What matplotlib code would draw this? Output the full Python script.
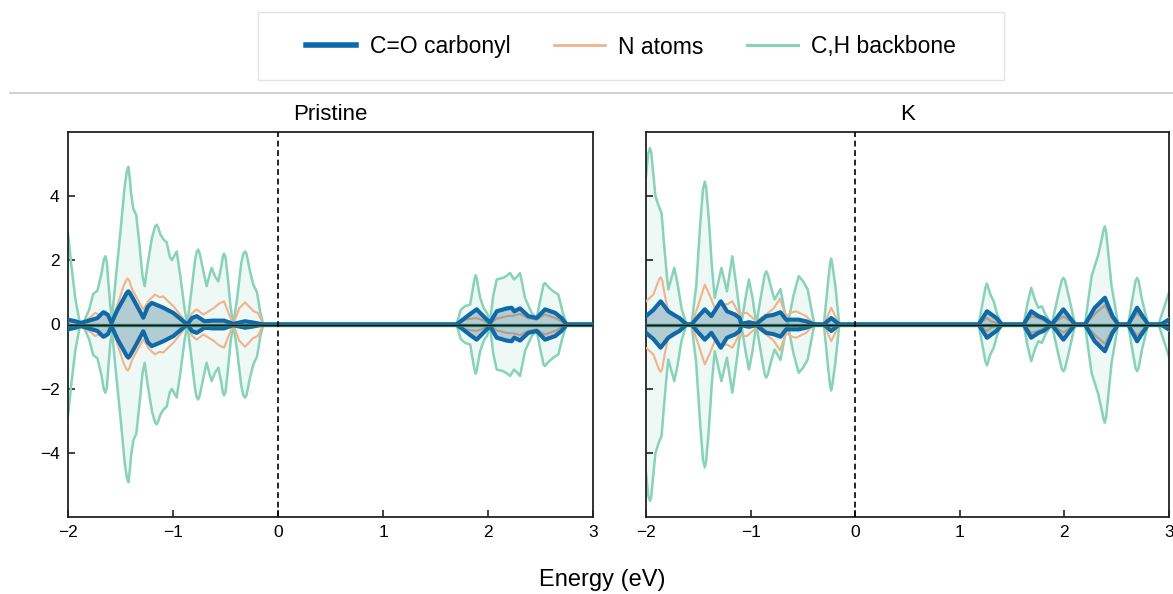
import matplotlib
matplotlib.use("Agg")
import matplotlib.pyplot as plt
from matplotlib.lines import Line2D
from matplotlib.patches import Rectangle
import numpy as np

plt.rcParams['font.family'] = ['Liberation Sans', 'DejaVu Sans']

# --- Pristine: projected DOS (spin up; spin down is the mirror) ---
pri_ch_e = [-2.00, -1.97, -1.93, -1.89, -1.86, -1.80, -1.76, -1.72, -1.68, -1.66, -1.645, -1.63, -1.62,
            -1.595, -1.58, -1.54, -1.50, -1.46, -1.44, -1.425, -1.41, -1.40, -1.378, -1.35, -1.32,
            -1.29, -1.27, -1.24, -1.20, -1.17, -1.155, -1.14, -1.12, -1.09, -1.06, -1.03, -1.01, -0.965,
            -0.93, -0.89, -0.864, -0.83, -0.79, -0.775, -0.76, -0.745, -0.72, -0.68, -0.655, -0.632,
            -0.60, -0.568, -0.54, -0.525, -0.514, -0.50, -0.48, -0.45, -0.425, -0.39, -0.35, -0.33,
            -0.314, -0.30, -0.27, -0.235, -0.20, -0.17, -0.14, 1.70, 1.74, 1.78, 1.83, 1.86, 1.875,
            1.883, 1.895, 1.91, 1.925, 1.96, 1.99, 2.02, 2.05, 2.083, 2.146, 2.18, 2.21, 2.248, 2.28,
            2.305, 2.33, 2.352, 2.416, 2.464, 2.50, 2.53, 2.543, 2.56, 2.58, 2.622, 2.67, 2.71, 2.75, 3.00]
pri_ch_y = [2.85, 1.9, 0.8, 0.1, 0.0, 0.45, 0.95, 1.05, 1.6, 2.0, 2.12, 1.95, 1.5,
            0.5, 0.26, 1.6, 2.9, 4.3, 4.75, 4.9, 4.5, 4.1, 3.6, 3.4, 2.5,
            1.5, 1.19, 1.9, 2.7, 3.05, 3.1, 3.0, 2.8, 2.64, 2.55, 2.1, 2.0, 2.27,
            1.5, 0.5, 0.0, 0.9, 2.0, 2.25, 2.33, 2.2, 1.8, 1.19, 1.5, 1.76,
            1.5, 1.34, 1.8, 2.12, 2.2, 2.1, 1.5, 0.5, 0.0, 0.8, 1.9, 2.2,
            2.27, 2.2, 1.7, 1.24, 1.0, 0.4, 0.0, 0.0, 0.45, 0.57, 0.62, 1.2, 1.45,
            1.53, 1.4, 1.1, 0.83, 0.5, 0.36, 0.1, 0.9, 1.4, 1.45, 1.52, 1.6, 1.4, 1.5,
            1.6, 1.2, 0.83, 0.36, 0.2, 0.8, 1.25, 1.29, 1.22, 1.15, 1.03, 0.93, 0.4, 0.0, 0.0]

pri_n_e = [-2.00, -1.90, -1.86, -1.80, -1.74, -1.70, -1.638, -1.585, -1.53, -1.47, -1.445, -1.431, -1.415,
           -1.39, -1.34, -1.283, -1.23, -1.171, -1.13, -1.092, -1.04, -0.997, -0.92, -0.864, -0.82,
           -0.775, -0.711, -0.616, -0.56, -0.514, -0.47, -0.425, -0.37, -0.314, -0.235, -0.19, -0.14,
           1.70, 1.78, 1.89, 1.96, 2.02, 2.08, 2.18, 2.25, 2.305, 2.38, 2.46, 2.54, 2.64, 2.75, 3.00]
pri_n_y = [0.1, 0.05, 0.05, 0.2, 0.36, 0.3, 0.41, 0.1, 0.6, 1.2, 1.38, 1.43, 1.35,
           1.1, 0.8, 0.46, 0.75, 0.93, 0.85, 0.87, 0.7, 0.57, 0.26, 0.0, 0.35,
           0.47, 0.31, 0.5, 0.65, 0.72, 0.35, 0.0, 0.5, 0.69, 0.42, 0.35, 0.0,
           0.0, 0.15, 0.2, 0.12, 0.02, 0.18, 0.26, 0.28, 0.33, 0.2, 0.15, 0.31, 0.2, 0.0, 0.0]

pri_co_e = [-2.00, -1.93, -1.88, -1.80, -1.72, -1.664, -1.62, -1.585, -1.53, -1.47, -1.44, -1.425, -1.41,
            -1.38, -1.33, -1.283, -1.24, -1.203, -1.15, -1.092, -0.997, -0.92, -0.864, -0.82, -0.775,
            -0.70, -0.62, -0.514, -0.425, -0.314, -0.235, -0.14, 1.70, 1.78, 1.84, 1.892, 1.955, 2.02,
            2.083, 2.178, 2.225, 2.25, 2.305, 2.384, 2.464, 2.543, 2.64, 2.70, 2.75, 3.00]
pri_co_y = [0.15, 0.1, 0.05, 0.12, 0.2, 0.38, 0.3, 0.05, 0.45, 0.8, 0.98, 1.03, 0.97,
            0.8, 0.5, 0.21, 0.55, 0.67, 0.6, 0.52, 0.36, 0.15, 0.0, 0.2, 0.26,
            0.1, 0.12, 0.12, 0.02, 0.1, 0.06, 0.0, 0.0, 0.2, 0.35, 0.47, 0.26, 0.05,
            0.41, 0.5, 0.52, 0.41, 0.5, 0.26, 0.2, 0.47, 0.36, 0.2, 0.0, 0.0]

# --- K-doped ---
k_ch_e = [-2.00, -1.98, -1.962, -1.95, -1.94, -1.91, -1.883, -1.851, -1.83, -1.80, -1.787, -1.76, -1.73,
          -1.70, -1.66, -1.613, -1.565, -1.52, -1.48, -1.455, -1.438, -1.425, -1.40, -1.37, -1.343,
          -1.31, -1.279, -1.226, -1.20, -1.175, -1.14, -1.105, -1.089, -1.05, -1.016, -0.98, -0.946,
          -0.90, -0.865, -0.851, -0.835, -0.80, -0.771, -0.714, -0.68, -0.645, -0.59, -0.54, -0.50,
          -0.454, -0.42, -0.39, -0.30, -0.26, -0.24, -0.23, -0.22, -0.19, -0.152, 1.18, 1.22, 1.245,
          1.26, 1.29, 1.324, 1.36, 1.403, 1.61, 1.65, 1.683, 1.72, 1.752, 1.784, 1.82, 1.879, 1.94,
          1.975, 1.99, 2.005, 2.04, 2.102, 2.197, 2.23, 2.26, 2.324, 2.36, 2.375, 2.387, 2.40, 2.42,
          2.451, 2.514, 2.61, 2.65, 2.68, 2.695, 2.71, 2.74, 2.80, 2.90, 2.95, 3.00]
k_ch_y = [4.6, 5.3, 5.48, 5.35, 5.0, 4.0, 3.72, 3.46, 2.6, 1.5, 1.09, 1.4, 1.76,
          1.3, 0.5, 0.0, 0.0, 1.2, 3.2, 4.2, 4.44, 4.25, 3.3, 1.8, 0.83,
          1.3, 1.76, 1.03, 1.6, 2.12, 1.3, 0.41, 0.0, 0.8, 1.4, 0.8, 0.0,
          0.9, 1.55, 1.65, 1.55, 1.1, 0.78, 1.1, 0.5, 0.0, 0.9, 1.5, 1.35,
          1.09, 0.5, 0.0, 0.0, 1.3, 1.9, 2.05, 1.9, 1.2, 0.0, 0.0, 0.7, 1.15,
          1.27, 0.95, 0.72, 0.3, 0.0, 0.0, 0.7, 1.14, 0.75, 0.52, 0.57, 0.3, 0.0, 0.9,
          1.38, 1.45, 1.38, 0.9, 0.0, 0.0, 0.8, 1.5, 2.17, 2.7, 2.95, 3.05, 2.85, 2.2,
          1.19, 0.0, 0.0, 0.8, 1.35, 1.45, 1.35, 0.8, 0.0, 0.0, 0.5, 1.0]

k_n_e = [-2.00, -1.93, -1.875, -1.86, -1.845, -1.82, -1.787, -1.74, -1.68, -1.613, -1.565, -1.50, -1.438,
         -1.39, -1.343, -1.279, -1.226, -1.175, -1.13, -1.105, -1.09, -1.035, -0.946, -0.851, -0.78,
         -0.72, -0.66, -0.60, -0.565, -0.47, -0.39, -0.30, -0.229, -0.152, 1.18, 1.26, 1.30, 1.403,
         1.61, 1.683, 1.752, 1.879, 1.99, 2.102, 2.197, 2.30, 2.387, 2.451, 2.514, 2.61, 2.695, 2.80,
         2.92, 3.00]
k_n_y = [0.72, 0.93, 1.4, 1.47, 1.38, 0.9, 0.41, 0.36, 0.2, 0.0, 0.0, 0.6, 1.24,
         0.9, 0.52, 0.67, 0.62, 0.72, 0.45, 0.3, 0.35, 0.36, 0.1, 0.31, 0.5,
         0.8, 0.26, 0.38, 0.41, 0.26, 0.0, 0.0, 0.52, 0.0, 0.0, 0.2, 0.1, 0.0,
         0.0, 0.25, 0.2, 0.0, 0.25, 0.0, 0.0, 0.35, 0.6, 0.2, 0.0, 0.0, 0.35, 0.0,
         0.0, 0.2]

k_co_e = [-2.00, -1.93, -1.86, -1.787, -1.74, -1.68, -1.613, -1.565, -1.50, -1.438, -1.375, -1.285,
          -1.226, -1.15, -1.105, -1.089, -1.016, -0.946, -0.851, -0.78, -0.714, -0.66, -0.54, -0.47,
          -0.39, -0.30, -0.229, -0.152, 1.18, 1.26, 1.35, 1.403, 1.61, 1.683, 1.752, 1.80, 1.879,
          1.99, 2.102, 2.197, 2.29, 2.387, 2.46, 2.514, 2.61, 2.695, 2.80, 2.92, 3.00]
k_co_y = [0.26, 0.45, 0.72, 0.41, 0.31, 0.2, 0.0, 0.0, 0.25, 0.47, 0.26, 0.72,
          0.41, 0.31, 0.2, 0.02, 0.07, 0.02, 0.26, 0.3, 0.38, 0.15, 0.15, 0.1,
          0.0, 0.0, 0.2, 0.0, 0.0, 0.41, 0.2, 0.0, 0.0, 0.41, 0.26, 0.2, 0.0,
          0.47, 0.0, 0.0, 0.52, 0.83, 0.26, 0.0, 0.0, 0.52, 0.0, 0.0, 0.15]

panels = [
    ("Pristine", (pri_co_e, pri_co_y), (pri_n_e, pri_n_y), (pri_ch_e, pri_ch_y)),
    ("K", (k_co_e, k_co_y), (k_n_e, k_n_y), (k_ch_e, k_ch_y)),
]
labels = ["C=O carbonyl", "N atoms", "C,H backbone"]

c_co = '#0b6aae'
c_n = '#f0b38c'
c_ch = '#88d2b9'

W, H = 1173, 594
fig = plt.figure(figsize=(W / 100, H / 100), dpi=100)

ax_boxes = [(68, 593), (646, 1169)]
top, bottom = 132, 517
axes = []
for (x0, x1), (title, co, n, ch) in zip(ax_boxes, panels):
    ax = fig.add_axes([x0 / W, 1 - bottom / H, (x1 - x0) / W, (bottom - top) / H])
    axes.append(ax)
    kw = dict(solid_joinstyle='round', solid_capstyle='round')

    e, y = np.array(ch[0]), np.array(ch[1])
    ax.fill_between(e, y, -y, color='#7fcdb0', alpha=0.13, lw=0, zorder=1)
    ax.plot(e, y, color=c_ch, lw=1.8, zorder=2, **kw)
    ax.plot(e, -y, color=c_ch, lw=1.8, zorder=2, **kw)

    e, y = np.array(n[0]), np.array(n[1])
    ax.plot(e, y, color=c_n, lw=1.5, zorder=3, **kw)
    ax.plot(e, -y, color=c_n, lw=1.5, zorder=3, **kw)

    e, y = np.array(co[0]), np.array(co[1])
    ax.plot(e, y, color=c_co, lw=3.0, zorder=4, **kw)
    ax.plot(e, -y, color=c_co, lw=3.0, zorder=4, **kw)
    ax.fill_between(e, y, -y, color='#2a6888', alpha=0.3, lw=0, zorder=5)

    ax.axhline(0, color='#2a8a78', lw=2.4, zorder=5.5)
    ax.axhline(0, color='#111111', lw=1.0, zorder=6)
    ax.axvline(0, color='black', lw=1.2, ls=(0, (3.5, 2.2)), zorder=6)

    ax.set_xlim(-2, 3)
    ax.set_ylim(-5.98, 5.98)
    ax.set_xticks([-2, -1, 0, 1, 2, 3])
    ax.set_yticks([-4, -2, 0, 2, 4])
    ax.tick_params(direction='in', length=5, width=1.2, labelsize=12.5, pad=6,
                   top=False, right=False, color='#222222')
    for s in ax.spines.values():
        s.set_linewidth(1.3)
        s.set_color('#222222')
    ax.set_title(title, fontsize=16, pad=9)

axes[1].tick_params(labelleft=False)

handles = [Line2D([], [], color=c_co, lw=4),
           Line2D([], [], color=c_n, lw=2),
           Line2D([], [], color=c_ch, lw=2.2)]
fig.legend(handles, labels, loc='center', bbox_to_anchor=(631 / W, 1 - 47 / H), ncol=3,
           frameon=False, fontsize=16.5, handlelength=2.2, handletextpad=0.6, columnspacing=1.9)
fig.add_artist(Rectangle((258 / W, 1 - 80 / H), 746 / W, 68 / H, transform=fig.transFigure,
                         facecolor='none', edgecolor='#e4e4e4', lw=1.0))
fig.add_artist(Line2D([10 / W, 1.0], [1 - 93 / H, 1 - 93 / H], transform=fig.transFigure,
                      color='#c8c8c8', lw=1.2))

fig.text(602 / W, 1 - 580 / H, "Energy (eV)", ha='center', va='center', fontsize=17)

fig.savefig("out.png", dpi=100)
